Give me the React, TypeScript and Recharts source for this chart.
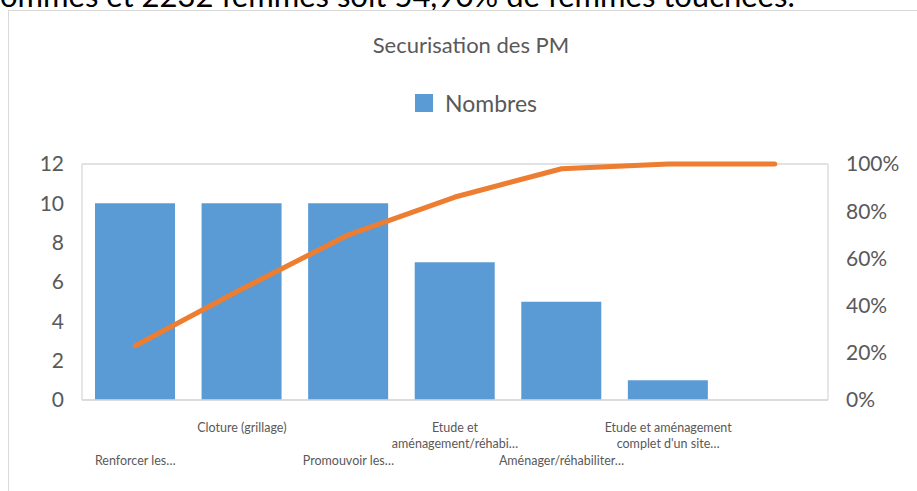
import React from "react";
import {
  ComposedChart,
  Bar,
  Line,
  XAxis,
  YAxis,
  CartesianGrid,
} from "recharts";

const categories = [
  "Renforcer les…",
  "Cloture (grillage)",
  "Promouvoir les…",
  "Etude et\naménagement/réhabi…",
  "Aménager/réhabiliter…",
  "Etude et aménagement\ncomplet d'un site…",
  "",
];
const nombres = [10, 10, 10, 7, 5, 1, 0];
const cumulPct = [0.23, 0.47, 0.7, 0.86, 0.98, 1, 1];
const leftTicks = [0, 2, 4, 6, 8, 10, 12];
const rightTicks = [0, 0.2, 0.4, 0.6, 0.8, 1];

const data = categories.map((name, i) => ({
  name,
  nombres: nombres[i],
  cumul: cumulPct[i],
}));

const GREY_TEXT = "#595959";
const GRID = "#d9d9d9";
const FONT = "Lato, 'Open Sans', sans-serif";

function CategoryTick(props: any) {
  const { x, y, payload, index } = props;
  const lines = String(payload.value).split("\n");
  const startDy = index % 2 === 1 ? 24 : 57;
  return (
    <text
      x={x}
      y={y}
      textAnchor="middle"
      fill={GREY_TEXT}
      fontSize={12.5}
      fontFamily={FONT}
    >
      {lines.map((line, i) => (
        <tspan key={i} x={x} dy={i === 0 ? startDy : 16}>
          {line}
        </tspan>
      ))}
    </text>
  );
}

export default function App() {
  return (
    <div
      style={{
        position: "absolute",
        left: 0,
        top: 0,
        width: 917,
        height: 491,
        background: "#fff",
        overflow: "hidden",
        fontFamily: FONT,
      }}
    >
      <div
        style={{
          position: "absolute",
          left: 0,
          top: -20,
          fontSize: 31,
          lineHeight: "31px",
          color: "#000",
          whiteSpace: "nowrap",
        }}
      >
        ommes et 2232 femmes soit 54,90% de femmes touchées.
      </div>
      <div
        style={{
          position: "absolute",
          left: 8,
          top: 10,
          width: 930,
          height: 500,
          borderLeft: `1.5px solid ${GRID}`,
          borderTop: `1.5px solid ${GRID}`,
          boxSizing: "border-box",
          background: "#fff",
        }}
      />
      <div
        style={{
          position: "absolute",
          left: 0,
          top: 31,
          width: 942,
          textAlign: "center",
          fontSize: 22,
          color: GREY_TEXT,
        }}
      >
        Securisation des PM
      </div>
      <div
        style={{
          position: "absolute",
          left: 415,
          top: 89,
          display: "flex",
          alignItems: "center",
          gap: 12,
          fontSize: 23,
          color: GREY_TEXT,
        }}
      >
        <span
          style={{
            display: "inline-block",
            width: 18,
            height: 18,
            background: "#5b9bd5",
          }}
        />
        <span>Nombres</span>
      </div>
      <div style={{ position: "absolute", left: 0, top: 0 }}>
        <ComposedChart
          width={917}
          height={491}
          data={data}
          margin={{ top: 164, right: 29, bottom: 31, left: 22 }}
          barCategoryGap={26}
        >
          <CartesianGrid
            vertical={false}
            stroke={GRID}
            strokeWidth={1.3}
          />
          <XAxis
            dataKey="name"
            interval={0}
            height={60}
            axisLine={{ stroke: GRID, strokeWidth: 1.3 }}
            tickLine={false}
            tick={<CategoryTick />}
          />
          <YAxis
            yAxisId="left"
            orientation="left"
            width={60}
            domain={[0, 12]}
            ticks={leftTicks}
            axisLine={{ stroke: GRID, strokeWidth: 1.3 }}
            tickLine={false}
            tickMargin={12}
            tick={{ fill: GREY_TEXT, fontSize: 21, fontFamily: FONT }}
          />
          <YAxis
            yAxisId="right"
            orientation="right"
            width={60}
            domain={[0, 1]}
            ticks={rightTicks}
            tickFormatter={(v: number) => `${Math.round(v * 100)}%`}
            axisLine={{ stroke: GRID, strokeWidth: 1.3 }}
            tickLine={false}
            tickMargin={12}
            tick={{ fill: GREY_TEXT, fontSize: 21, fontFamily: FONT }}
          />
          <Bar
            yAxisId="left"
            dataKey="nombres"
            fill="#5b9bd5"
            barSize={80}
            isAnimationActive={false}
          />
          <Line
            yAxisId="right"
            type="linear"
            dataKey="cumul"
            stroke="#ed7d31"
            strokeWidth={5}
            strokeLinecap="round"
            strokeLinejoin="round"
            dot={false}
            activeDot={false}
            isAnimationActive={false}
          />
        </ComposedChart>
      </div>
    </div>
  );
}
